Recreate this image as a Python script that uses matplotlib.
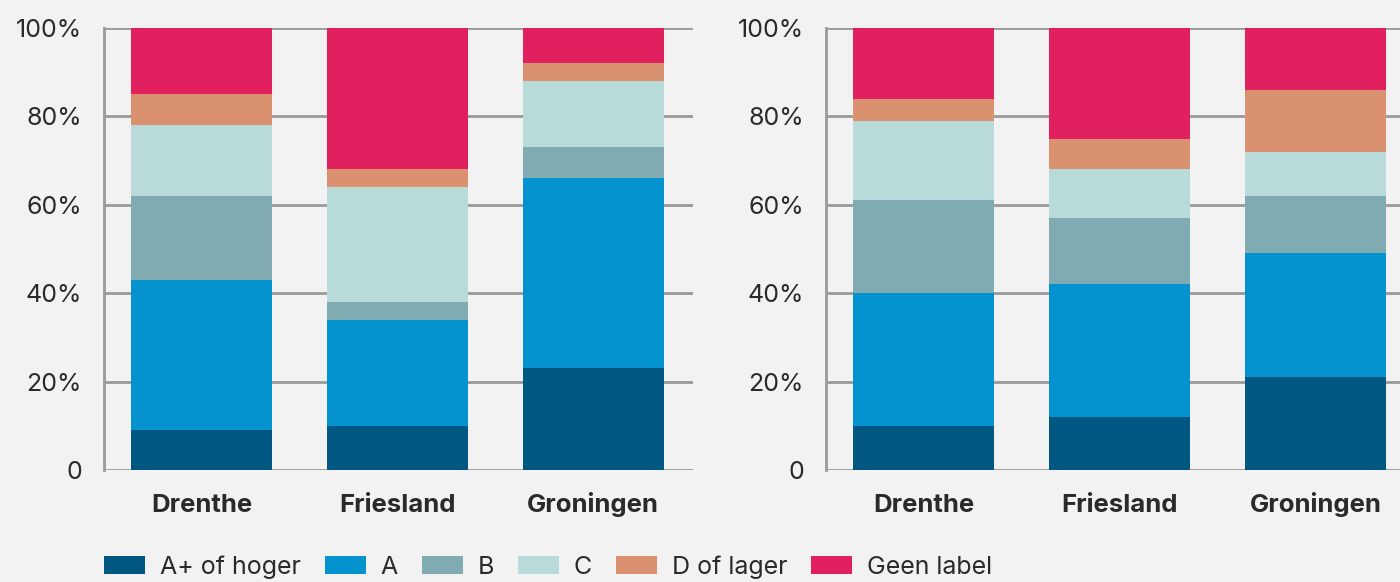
import numpy as np
import matplotlib.pyplot as plt
from matplotlib.patches import Patch

REGIONS = ["Drenthe", "Friesland", "Groningen"]
LABELS = ["A+ of hoger", "A", "B", "C", "D of lager", "Geen label"]
COLORS = ["#005882", "#0593cf", "#80abb3", "#b8dbda", "#d99170", "#e1205f"]

# share per energy label (%), per region: Drenthe, Friesland, Groningen
left_aplus = [9, 10, 23]
left_a = [34, 24, 43]
left_b = [19, 4, 7]
left_c = [16, 26, 15]
left_d = [7, 4, 4]
left_geen = [15, 32, 8]

right_aplus = [10, 12, 21]
right_a = [30, 30, 28]
right_b = [21, 15, 13]
right_c = [18, 11, 10]
right_d = [5, 7, 14]
right_geen = [16, 25, 14]

BG = "#f2f2f2"
GRID = "#9a9a9a"
TEXT = "#2a2a2a"

plt.rcParams["font.family"] = ["Inter", "DejaVu Sans"]


def draw_panel(ax, series, xmax):
    x = np.arange(len(REGIONS))
    bottom = np.zeros(len(REGIONS))
    for vals, col in zip(series, COLORS):
        ax.bar(x, vals, bottom=bottom, width=0.72, color=col, zorder=3)
        bottom += np.array(vals)

    ax.set_xlim(-0.5, xmax)
    ax.set_ylim(0, 100)
    ax.set_facecolor(BG)
    ax.set_yticks([0, 20, 40, 60, 80, 100])
    ax.set_yticklabels(["0", "20%", "40%", "60%", "80%", "100%"])
    ax.set_xticks(x)
    ax.set_xticklabels(REGIONS, fontweight="bold", va="baseline")
    ax.tick_params(axis="y", length=0, pad=16, labelsize=18, labelcolor=TEXT)
    ax.tick_params(axis="x", length=0, pad=30, labelsize=18.5, labelcolor=TEXT)
    ax.grid(axis="y", color=GRID, linewidth=2, zorder=0)
    ax.set_axisbelow(True)
    for side in ["top", "right", "bottom"]:
        ax.spines[side].set_visible(False)
    ax.spines["left"].set_color(GRID)
    ax.spines["left"].set_linewidth(2)
    ax.spines["left"].set_zorder(1)


fig = plt.figure(figsize=(14, 5.82), dpi=100, facecolor=BG)

ax1 = fig.add_axes([104 / 1400, 1 - 470 / 582, (693 - 104) / 1400, 442 / 582])
ax2 = fig.add_axes([826 / 1400, 1 - 470 / 582, (1400 - 826) / 1400, 442 / 582])

draw_panel(ax1, [left_aplus, left_a, left_b, left_c, left_d, left_geen], 2.51)
draw_panel(ax2, [right_aplus, right_a, right_b, right_c, right_d, right_geen], 2.43)

handles = [Patch(facecolor=c, edgecolor="none") for c in COLORS]
fig.legend(handles, LABELS, loc="center left",
           bbox_to_anchor=(104 / 1400, 1 - 567 / 582),
           ncol=6, frameon=False, fontsize=18, labelcolor=TEXT,
           handlelength=1.64, handleheight=0.72, handletextpad=0.6,
           columnspacing=0.95, borderpad=0, borderaxespad=0)

fig.savefig("out.png", dpi=100, facecolor=BG)
